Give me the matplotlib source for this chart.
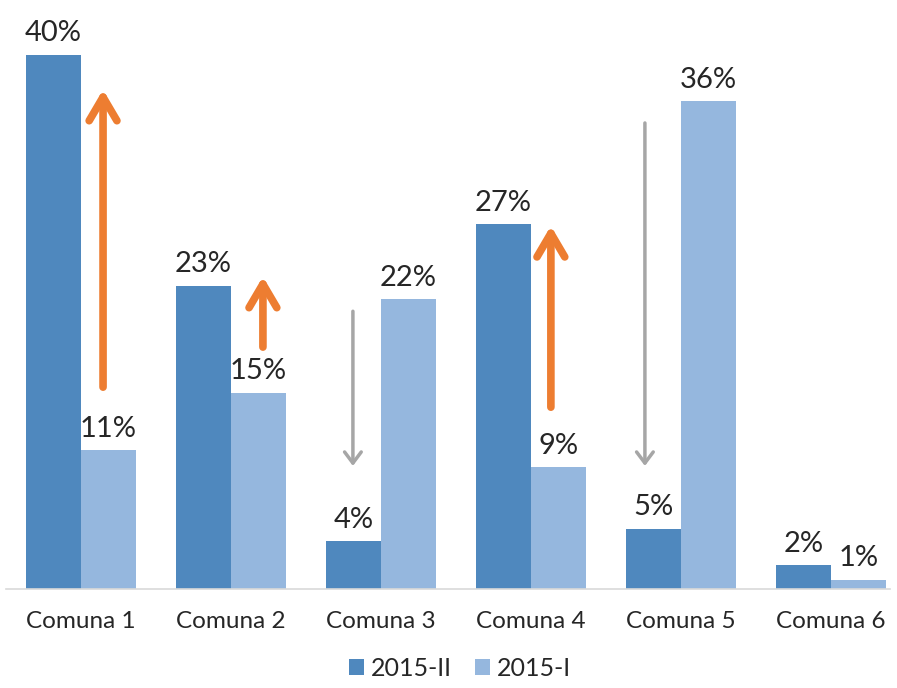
import numpy as np
import matplotlib.pyplot as plt
from matplotlib.patches import FancyArrowPatch

plt.rcParams['font.family'] = ['Lato', 'DejaVu Sans']

# ---------------------------------------------------------------------------
# Datos
# ---------------------------------------------------------------------------
categorias = ["Comuna 1", "Comuna 2", "Comuna 3", "Comuna 4", "Comuna 5", "Comuna 6"]
serie_2015_II = [40.0, 22.7, 3.6, 27.3, 4.5, 1.8]
serie_2015_I = [10.4, 14.7, 21.7, 9.1, 36.5, 0.7]
etiquetas_II = ["40%", "23%", "4%", "27%", "5%", "2%"]
etiquetas_I = ["11%", "15%", "22%", "9%", "36%", "1%"]

# flechas: (comuna, desde, hasta)
flechas_sube = [(0, 14.9, 37.6), (1, 17.9, 23.6), (3, 13.4, 27.4)]
flechas_baja = [(2, 21.0, 9.0), (4, 35.1, 9.0)]

color_II = "#4F88BE"
color_I = "#95B7DE"
naranja = "#ED7D31"
gris = "#A6A6A6"

fig = plt.figure(figsize=(8.97, 6.88), dpi=100)
ax = fig.add_axes([0.0067, 0.144, 0.9853, 0.856])

x = np.arange(len(categorias))
ancho = 0.367
b1 = ax.bar(x - ancho / 2, serie_2015_II, ancho, color=color_II, label="2015-II")
b2 = ax.bar(x + ancho / 2, serie_2015_I, ancho, color=color_I, label="2015-I")

for barras, etiquetas in ((b1, etiquetas_II), (b2, etiquetas_I)):
    for rect, txt in zip(barras, etiquetas):
        ax.annotate(txt, (rect.get_x() + rect.get_width() / 2, rect.get_height()),
                    xytext=(0, 6), textcoords="offset points",
                    ha="center", va="bottom", fontsize=21, color="#262626")

# flechas naranjas (sube) y grises (baja)
offs_sube = [0.147, 0.213, 0.133]
for (i, y0, y1), dx in zip(flechas_sube, offs_sube):
    ax.add_patch(FancyArrowPatch((i + dx, y0), (i + dx, y1),
                                 arrowstyle="->,head_length=17,head_width=10",
                                 color=naranja, lw=5.5, capstyle="round",
                                 joinstyle="round", mutation_scale=1))
offs_baja = [-0.187, -0.24]
for (i, y0, y1), dx in zip(flechas_baja, offs_baja):
    ax.add_patch(FancyArrowPatch((i + dx, y0), (i + dx, y1),
                                 arrowstyle="->,head_length=8,head_width=6",
                                 color=gris, lw=2.5, capstyle="round",
                                 mutation_scale=1))

ax.set_xlim(-0.5, 5.393)
ax.set_ylim(0, 44.1)
ax.set_xticks(x)
ax.set_xticklabels(categorias, fontsize=17.5, color="#262626")
ax.tick_params(axis="x", length=0, pad=16)
ax.set_yticks([])
for lado in ("top", "right", "left"):
    ax.spines[lado].set_visible(False)
ax.spines["bottom"].set_color("#D9D9D9")
ax.spines["bottom"].set_linewidth(1.2)

fig.legend(handles=[b1, b2], loc="center", bbox_to_anchor=(0.513, 0.029), ncol=2,
           frameon=False, fontsize=18, handlelength=0.6, handleheight=0.6,
           handletextpad=0.3, columnspacing=0.9, labelcolor="#262626")

fig.savefig("out.png", dpi=100)
